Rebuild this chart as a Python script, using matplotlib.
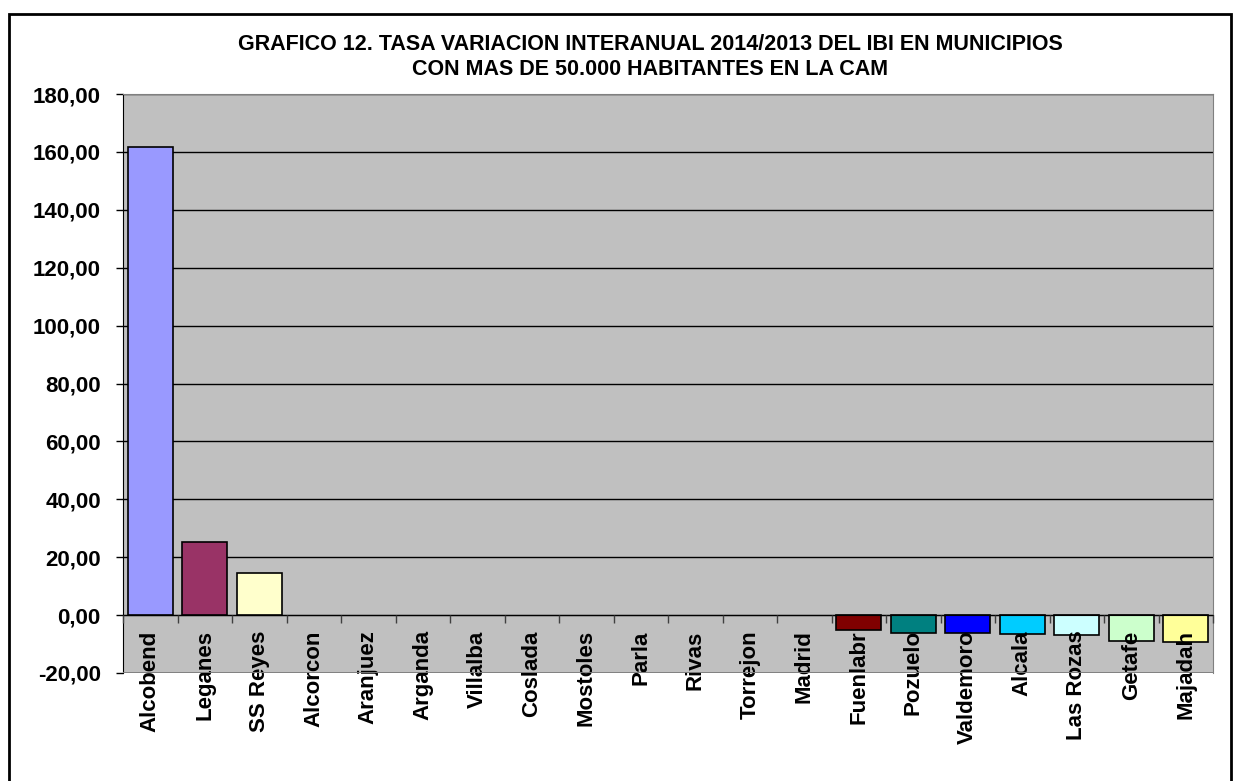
import matplotlib.pyplot as plt
import matplotlib.patches as mpatches
import numpy as np

# Datos
municipios = ['Alcobend', 'Leganes', 'SS Reyes', 'Alcorcon', 'Aranjuez', 'Arganda',
              'Villalba', 'Coslada', 'Mostoles', 'Parla', 'Rivas', 'Torrejon', 'Madrid',
              'Fuenlabr', 'Pozuelo', 'Valdemoro', 'Alcala', 'Las Rozas', 'Getafe', 'Majadah']
tasa = [161.7, 25.3, 14.6, 0, 0, 0, 0, 0, 0, 0, 0, 0, 0,
        -5.2, -6.3, -6.3, -6.4, -7.0, -9.0, -9.4]
colores = ['#9999FF', '#993366', '#FFFFCC', '#CCFFFF', '#660066', '#FF8080', '#0066CC',
           '#CCCCFF', '#000080', '#FF00FF', '#FFFF00', '#00FFFF', '#800080', '#800000',
           '#008080', '#0000FF', '#00CCFF', '#CCFFFF', '#CCFFCC', '#FFFF99']
yticks = np.arange(-20, 181, 20)

plt.rcParams['font.family'] = ['Liberation Sans', 'DejaVu Sans']
plt.rcParams['font.weight'] = 'bold'

fig = plt.figure(figsize=(12.34, 7.81), dpi=100)
ax = fig.add_axes([0.0997, 0.1383, 0.8833, 0.7413])

# marco exterior
fig.patches.append(mpatches.Rectangle((9 / 1234, -0.05), 1222 / 1234, 1.05 - 14 / 781,
                                      transform=fig.transFigure, fill=False,
                                      edgecolor='black', linewidth=2))

x = np.arange(len(municipios))
ax.set_facecolor('#C0C0C0')
ax.set_axisbelow(True)
ax.xaxis.set_zorder(4)  # etiquetas por encima de las barras
ax.yaxis.grid(True, color='black', linewidth=1)
bordes = ['black' if v != 0 else 'none' for v in tasa]
ax.bar(x, tasa, width=0.83, color=colores, edgecolor=bordes, linewidth=1.2, zorder=3)

ax.set_xlim(-0.5, len(municipios) - 0.5)
ax.set_ylim(-20, 180)
ax.set_yticks(yticks)
ax.set_yticklabels([f'{v:.2f}'.replace('.', ',') for v in yticks], fontsize=16, fontweight='bold')
ax.tick_params(axis='y', direction='out', length=5, width=1, pad=11)

# eje x en el cero
ax.spines['bottom'].set_position(('data', 0))
ax.spines['bottom'].set_color('black')
ax.spines['bottom'].set_zorder(4)
ax.spines['left'].set_color('black')
ax.spines['top'].set_color('#808080')
ax.spines['right'].set_color('#808080')
ax.axhline(-20, color='#808080', linewidth=2, zorder=5)

ax.set_xticks(x)
ax.set_xticklabels(municipios, rotation=90, fontsize=16, fontweight='bold', va='top')
ax.set_xticks(np.arange(-0.5, len(municipios), 1), minor=True)
ax.tick_params(axis='x', which='major', length=0, pad=11)
ax.tick_params(axis='x', which='minor', direction='out', length=6, width=1, color='#404040')

fig.text(0.527, 0.927, 'GRAFICO 12. TASA VARIACION INTERANUAL 2014/2013 DEL IBI EN MUNICIPIOS\n'
         'CON MAS DE 50.000 HABITANTES EN LA CAM', ha='center', va='center',
         fontsize=15.5, fontweight='bold', linespacing=1.2)

fig.savefig('out.png', dpi=100)
